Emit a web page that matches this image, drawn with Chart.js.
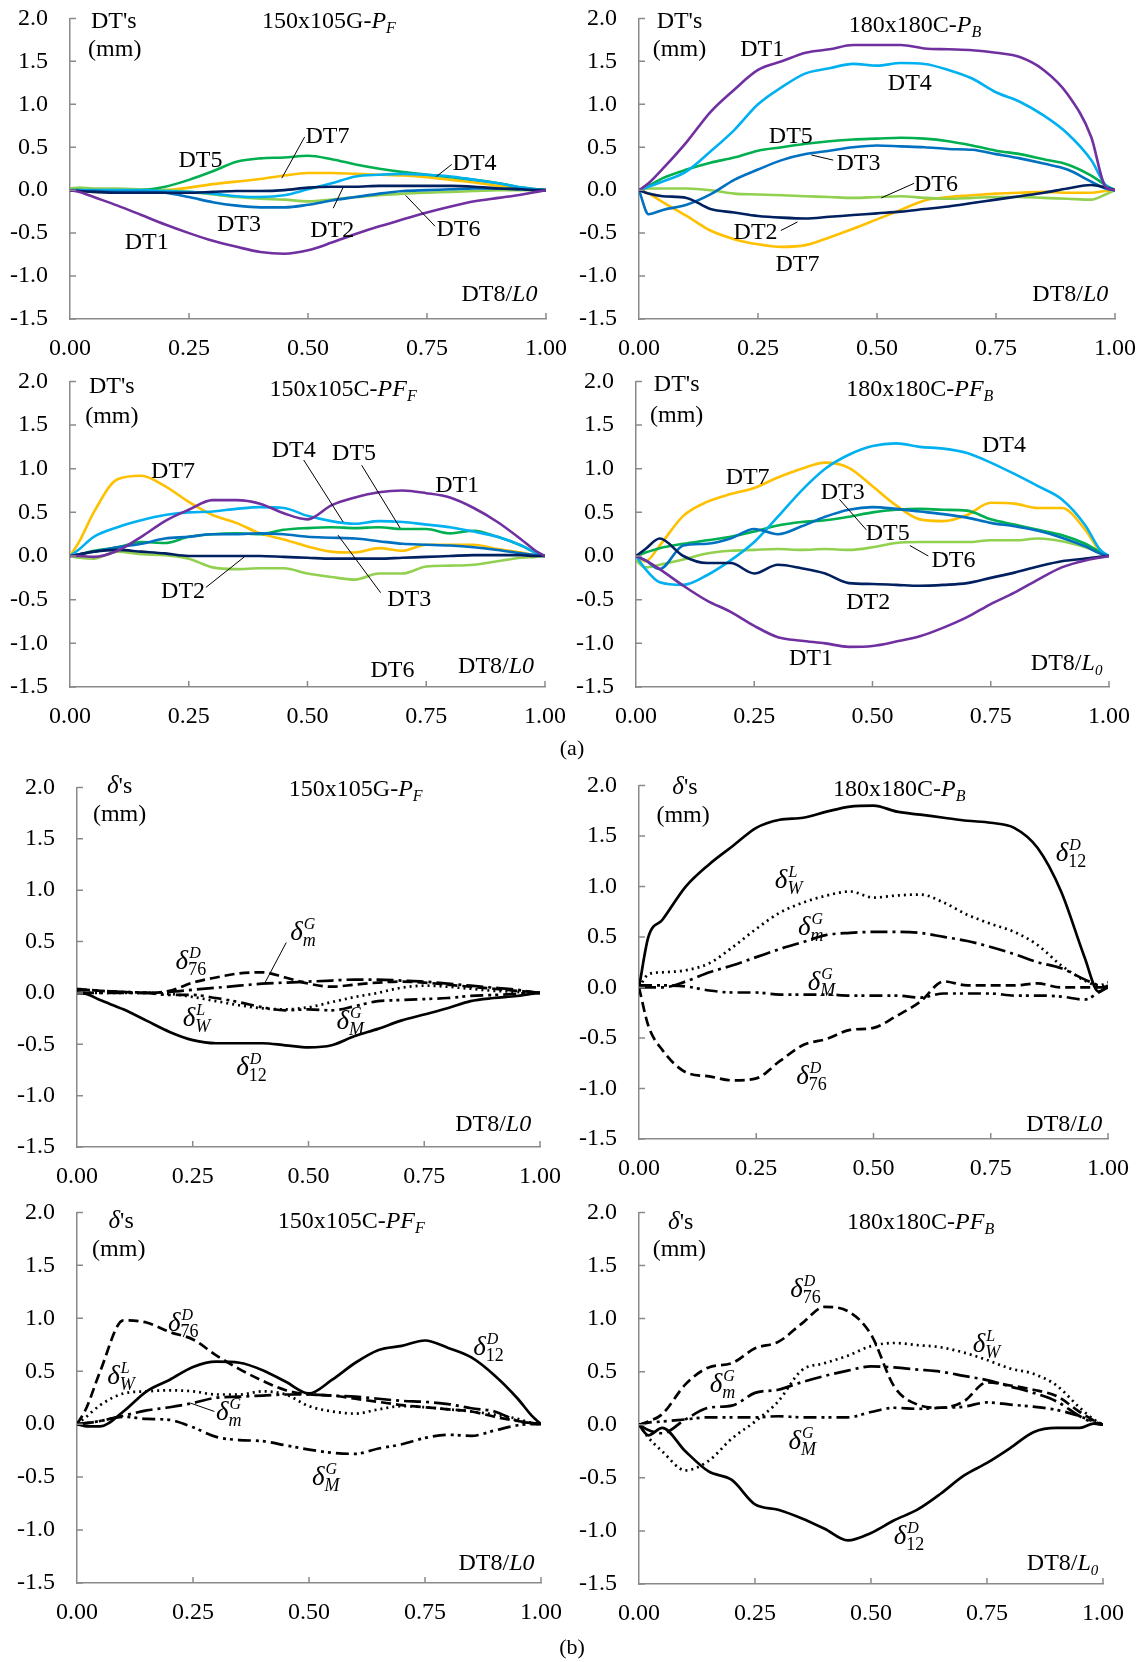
<!DOCTYPE html>
<html><head><meta charset="utf-8">
<script src="https://cdn.jsdelivr.net/npm/chart.js@4.4.0/dist/chart.umd.min.js"></script>
<style>
html,body{margin:0;padding:0;background:#fff;}
#page{position:relative;width:1145px;height:1662px;overflow:hidden;background:#fff;}
canvas{position:absolute;}
.cap{position:absolute;font-family:'Liberation Serif','Times New Roman',serif;font-size:22px;transform:translate(-50%,-50%);color:#000;}
</style></head><body><div id="page"></div>
<script>
// ---------- shared axes ----------
const X = [0,0.02,0.05,0.1,0.15,0.2,0.25,0.3,0.35,0.4,0.45,0.5,0.55,0.6,0.65,0.7,0.75,0.8,0.85,0.9,0.95,0.98,1];
const X_TICKS = [0,0.25,0.5,0.75,1];
const Y_TICKS = [-1.5,-1,-0.5,0,0.5,1,1.5,2];
const DT_NAMES = ['DT1','DT2','DT3','DT4','DT5','DT6','DT7'];
const D_NAMES = ['d12','d76','dW','dm','dM'];

// ---------- (a) 150x105G-PF ----------
const a1_DT1 = [0,-0.02,-0.08,-0.18,-0.29,-0.40,-0.50,-0.59,-0.66,-0.72,-0.74,-0.70,-0.61,-0.51,-0.42,-0.34,-0.26,-0.19,-0.13,-0.09,-0.05,-0.02,0];
const a1_DT2 = [0,-0.01,-0.02,-0.03,-0.03,-0.03,-0.03,-0.02,-0.01,-0.01,0.00,0.03,0.04,0.04,0.05,0.05,0.05,0.05,0.04,0.02,0.01,0.00,0];
const a1_DT3 = [0,-0.01,-0.01,-0.02,-0.02,-0.03,-0.08,-0.14,-0.18,-0.20,-0.20,-0.17,-0.12,-0.08,-0.04,-0.01,0.00,0.01,0.02,0.02,0.01,0.00,0];
const a1_DT4 = [0,0.00,0.00,0.00,0.00,-0.01,-0.02,-0.04,-0.07,-0.08,-0.06,0.01,0.08,0.16,0.18,0.19,0.18,0.16,0.12,0.08,0.03,0.01,0];
const a1_DT5 = [0,0.00,-0.01,-0.01,0.00,0.04,0.12,0.22,0.33,0.37,0.38,0.40,0.36,0.30,0.25,0.21,0.18,0.15,0.12,0.08,0.03,0.01,0];
const a1_DT6 = [0.02,0.03,0.02,0.02,0.01,0.00,-0.02,-0.05,-0.08,-0.10,-0.11,-0.13,-0.11,-0.08,-0.06,-0.04,-0.03,-0.02,-0.01,0.00,0.00,0.00,0];
const a1_DT7 = [0,-0.01,-0.02,-0.02,-0.01,0.00,0.03,0.07,0.10,0.13,0.17,0.20,0.20,0.19,0.18,0.17,0.15,0.12,0.09,0.05,0.01,0.00,0];

// ---------- (a) 180x180C-PB ----------
const a2_DT1 = [0,0.08,0.25,0.56,0.91,1.17,1.40,1.50,1.60,1.64,1.69,1.69,1.69,1.65,1.64,1.63,1.60,1.55,1.40,1.12,0.62,0.04,0];
const a2_DT2 = [0,-0.04,-0.07,-0.09,-0.22,-0.26,-0.30,-0.32,-0.33,-0.31,-0.29,-0.27,-0.25,-0.22,-0.19,-0.15,-0.11,-0.07,-0.03,0.02,0.06,0.03,0];
const a2_DT3 = [0,-0.28,-0.23,-0.17,-0.05,0.12,0.24,0.35,0.42,0.46,0.50,0.52,0.51,0.50,0.48,0.47,0.42,0.37,0.31,0.24,0.10,0.02,0];
const a2_DT4 = [0,0.04,0.10,0.22,0.45,0.70,1.00,1.20,1.36,1.42,1.47,1.45,1.48,1.47,1.40,1.30,1.14,1.03,0.87,0.66,0.35,0.06,0];
const a2_DT5 = [0,0.05,0.14,0.24,0.32,0.38,0.46,0.50,0.54,0.57,0.59,0.60,0.61,0.60,0.57,0.52,0.46,0.42,0.36,0.30,0.17,0.06,0];
const a2_DT6 = [0,0.02,0.02,0.02,0.00,-0.04,-0.05,-0.06,-0.07,-0.08,-0.09,-0.08,-0.07,-0.09,-0.10,-0.09,-0.08,-0.08,-0.09,-0.10,-0.11,-0.05,0];
const a2_DT7 = [0,-0.04,-0.14,-0.30,-0.47,-0.57,-0.63,-0.66,-0.64,-0.55,-0.45,-0.34,-0.23,-0.12,-0.08,-0.06,-0.04,-0.03,-0.02,-0.03,-0.03,-0.01,0];

// ---------- (a) 150x105C-PFF ----------
const a3_DT1 = [0,0.00,-0.01,0.06,0.22,0.40,0.53,0.64,0.64,0.60,0.49,0.42,0.58,0.67,0.73,0.75,0.72,0.67,0.55,0.39,0.19,0.06,0];
const a3_DT2 = [0,0.02,0.05,0.07,0.05,0.03,0.00,0.00,0.00,0.00,-0.01,-0.02,-0.03,-0.03,-0.03,-0.02,-0.01,0.00,0.01,0.01,0.01,0.00,0];
const a3_DT3 = [0,0.02,0.05,0.10,0.14,0.20,0.22,0.25,0.25,0.26,0.25,0.22,0.21,0.20,0.17,0.14,0.13,0.12,0.10,0.07,0.03,0.01,0];
const a3_DT4 = [0,0.08,0.22,0.33,0.41,0.47,0.50,0.51,0.54,0.56,0.55,0.46,0.40,0.37,0.40,0.39,0.36,0.33,0.28,0.22,0.12,0.04,0];
const a3_DT5 = [0,0.02,0.06,0.10,0.16,0.15,0.22,0.25,0.26,0.25,0.30,0.32,0.33,0.32,0.33,0.31,0.31,0.26,0.29,0.22,0.12,0.04,0];
const a3_DT6 = [0,-0.02,-0.03,0.05,0.02,0.01,-0.03,-0.13,-0.15,-0.14,-0.14,-0.20,-0.24,-0.27,-0.20,-0.20,-0.12,-0.11,-0.10,-0.06,-0.02,-0.01,0];
const a3_DT7 = [0,0.17,0.50,0.88,0.92,0.80,0.62,0.47,0.38,0.26,0.19,0.11,0.05,0.04,0.09,0.06,0.13,0.13,0.13,0.08,0.04,0.01,0];

// ---------- (a) 180x180C-PFB ----------
const a4_DT1 = [0,-0.05,-0.15,-0.34,-0.51,-0.64,-0.80,-0.93,-0.97,-1.00,-1.04,-1.03,-0.98,-0.92,-0.82,-0.70,-0.55,-0.42,-0.27,-0.13,-0.05,-0.02,0];
const a4_DT2 = [0,0.08,0.20,0.00,-0.08,-0.08,-0.20,-0.10,-0.14,-0.20,-0.31,-0.32,-0.33,-0.34,-0.33,-0.31,-0.25,-0.19,-0.12,-0.06,-0.03,-0.01,0];
const a4_DT3 = [0,-0.05,-0.15,0.12,0.14,0.20,0.31,0.25,0.34,0.45,0.53,0.56,0.54,0.51,0.48,0.44,0.38,0.34,0.29,0.21,0.11,0.03,0];
const a4_DT4 = [0,-0.15,-0.30,-0.33,-0.22,-0.05,0.16,0.45,0.75,1.00,1.16,1.26,1.29,1.25,1.23,1.18,1.07,0.94,0.80,0.65,0.35,0.08,0];
const a4_DT5 = [0,0.04,0.09,0.14,0.18,0.22,0.28,0.35,0.39,0.41,0.45,0.50,0.53,0.54,0.53,0.52,0.42,0.36,0.30,0.24,0.14,0.05,0];
const a4_DT6 = [-0.05,-0.13,-0.10,-0.04,0.03,0.06,0.07,0.08,0.07,0.08,0.07,0.10,0.15,0.16,0.16,0.16,0.18,0.18,0.20,0.17,0.10,0.04,0];
const a4_DT7 = [0,-0.06,0.12,0.46,0.62,0.71,0.78,0.90,1.00,1.07,1.01,0.80,0.58,0.42,0.40,0.47,0.61,0.60,0.55,0.55,0.30,0.06,0];

// ---------- (b) 150x105G-PF ----------
const b1_d12 = [0,-0.01,-0.07,-0.16,-0.27,-0.38,-0.46,-0.49,-0.49,-0.49,-0.51,-0.53,-0.51,-0.42,-0.35,-0.27,-0.21,-0.15,-0.08,-0.05,-0.03,-0.01,0];
const b1_d76 = [0.03,0.03,0.02,0.01,0.00,0.02,0.10,0.15,0.19,0.20,0.15,0.09,0.06,0.08,0.10,0.11,0.10,0.08,0.06,0.04,0.02,0.01,0];
const b1_dW  = [0,0.00,0.00,0.00,0.00,-0.01,-0.04,-0.08,-0.12,-0.15,-0.16,-0.14,-0.09,-0.04,0.00,0.05,0.07,0.06,0.04,0.02,0.01,0.00,0];
const b1_dm  = [0,0.00,0.00,0.00,0.00,0.01,0.03,0.05,0.07,0.09,0.10,0.11,0.12,0.13,0.13,0.12,0.11,0.09,0.07,0.05,0.03,0.01,0];
const b1_dM  = [0.04,0.03,0.02,0.01,0.00,-0.02,-0.02,-0.05,-0.09,-0.14,-0.17,-0.16,-0.17,-0.13,-0.08,-0.07,-0.06,-0.05,-0.03,-0.02,-0.01,0.00,0];

// ---------- (b) 180x180C-PB ----------
const b2_d12 = [0,0.50,0.67,1.00,1.22,1.40,1.58,1.66,1.68,1.74,1.79,1.80,1.74,1.71,1.68,1.65,1.63,1.58,1.38,0.95,0.30,-0.04,0.02];
const b2_d76 = [0,-0.38,-0.62,-0.84,-0.88,-0.92,-0.90,-0.73,-0.57,-0.51,-0.42,-0.40,-0.28,-0.14,0.06,0.02,0.02,0.02,0.04,0.00,0.00,0.00,0];
const b2_dW  = [0,0.13,0.15,0.17,0.24,0.40,0.58,0.74,0.84,0.91,0.95,0.89,0.91,0.92,0.84,0.72,0.63,0.55,0.42,0.22,0.07,0.02,0.05];
const b2_dm  = [0,0.00,0.00,0.06,0.15,0.22,0.30,0.38,0.45,0.52,0.54,0.55,0.55,0.54,0.50,0.46,0.40,0.33,0.25,0.19,0.08,0.02,0];
const b2_dM  = [0.02,0.02,0.02,0.01,-0.03,-0.05,-0.05,-0.07,-0.07,-0.07,-0.08,-0.08,-0.08,-0.10,-0.06,-0.06,-0.06,-0.08,-0.08,-0.09,-0.12,-0.05,0];

// ---------- (b) 150x105C-PFF ----------
const b3_d12 = [0,-0.02,-0.02,0.12,0.31,0.42,0.54,0.59,0.58,0.51,0.40,0.29,0.42,0.58,0.70,0.74,0.79,0.72,0.63,0.46,0.24,0.08,0];
const b3_d76 = [0,0.15,0.50,0.98,0.96,0.87,0.80,0.65,0.52,0.41,0.32,0.28,0.27,0.24,0.21,0.18,0.16,0.14,0.12,0.07,0.03,0.01,0];
const b3_dW  = [0,0.07,0.18,0.29,0.31,0.32,0.31,0.28,0.28,0.31,0.28,0.17,0.12,0.10,0.14,0.17,0.16,0.14,0.12,0.09,0.05,0.01,0];
const b3_dm  = [0,0.01,0.03,0.08,0.13,0.16,0.20,0.25,0.26,0.27,0.28,0.28,0.27,0.26,0.24,0.22,0.21,0.19,0.15,0.12,0.03,0.01,0];
const b3_dM  = [0,0.01,0.03,0.07,0.05,0.04,-0.03,-0.12,-0.15,-0.16,-0.20,-0.24,-0.27,-0.28,-0.23,-0.19,-0.13,-0.10,-0.11,-0.06,-0.01,0.00,0];

// ---------- (b) 180x180C-PFB ----------
const b4_d12 = [0,-0.10,-0.03,-0.25,-0.44,-0.52,-0.75,-0.80,-0.88,-0.98,-1.09,-1.02,-0.90,-0.80,-0.65,-0.48,-0.36,-0.22,-0.07,-0.03,-0.03,0.01,0];
const b4_d76 = [0,0.03,0.10,0.38,0.54,0.58,0.72,0.78,0.95,1.11,1.07,0.85,0.36,0.19,0.16,0.22,0.40,0.37,0.33,0.27,0.12,0.04,0];
const b4_dW  = [0,-0.12,-0.25,-0.43,-0.34,-0.13,0.03,0.22,0.51,0.58,0.65,0.74,0.77,0.75,0.73,0.68,0.61,0.53,0.48,0.37,0.16,0.05,0];
const b4_dm  = [0,-0.05,-0.08,0.05,0.16,0.18,0.30,0.33,0.40,0.46,0.51,0.55,0.54,0.52,0.50,0.46,0.42,0.36,0.30,0.22,0.08,0.02,0];
const b4_dM  = [0,0.02,0.03,0.05,0.07,0.07,0.07,0.08,0.07,0.07,0.07,0.12,0.16,0.15,0.16,0.17,0.21,0.19,0.17,0.14,0.08,0.03,0];

// ---------- styles ----------
const SERIF = "'Liberation Serif','Times New Roman',serif";
const AXIS_COLOR = '#8a8a8a';
const DT_COLORS = ['#7030A0','#002060','#0070C0','#00B0F0','#00B050','#92D050','#FFC000'];
const D_DASH = [[], [10,5], [2,4], [17,5,3,5], [13,5,3,4,3,5]];
const PADL = 70, PADR = 45, PADT = 15, PADB = 52;
const FS = 24;

// label text specs (delta labels: superscript / subscript)
const D_LABEL = { d12:['D','12'], d76:['D','76'], dW:['L','W'], dm:['G','m'], dM:['G','M'] };

const PANELS = [
 {id:1, L:70, R:546, T:18, B:319, kind:'a', series:[a1_DT1,a1_DT2,a1_DT3,a1_DT4,a1_DT5,a1_DT6,a1_DT7],
  title:['150x105G-','P','F'], tpos:[0.544,1.98], hpos:[0.092,1.98], mpos:[0.094,1.65], apos:[0.982,-1.20], subL0:false,
  labels:[['DT5',0.274,0.36],['DT7',0.541,0.64],['DT4',0.850,0.33],['DT3',0.355,-0.38],['DT2',0.551,-0.45],['DT6',0.816,-0.44],['DT1',0.161,-0.59]],
  leaders:[[0.493,0.62,0.445,0.14],[0.802,0.30,0.770,0.16],[0.553,-0.21,0.574,0.035],[0.767,-0.42,0.705,-0.06]]},
 {id:2, L:639, R:1115, T:18, B:319, kind:'a', series:[a2_DT1,a2_DT2,a2_DT3,a2_DT4,a2_DT5,a2_DT6,a2_DT7],
  title:['180x180C-','P','B'], tpos:[0.580,1.94], hpos:[0.085,1.98], mpos:[0.085,1.65], apos:[0.986,-1.20], subL0:false,
  labels:[['DT1',0.259,1.65],['DT4',0.569,1.26],['DT5',0.319,0.64],['DT3',0.461,0.33],['DT6',0.624,0.08],['DT2',0.245,-0.47],['DT7',0.333,-0.85]],
  leaders:[[0.408,0.35,0.362,0.41],[0.578,0.08,0.509,-0.09],[0.298,-0.47,0.333,-0.37]]},
 {id:3, L:70, R:545, T:381, B:687, kind:'a', series:[a3_DT1,a3_DT2,a3_DT3,a3_DT4,a3_DT5,a3_DT6,a3_DT7],
  title:['150x105C-','PF','F'], tpos:[0.575,1.92], hpos:[0.088,1.96], mpos:[0.088,1.62], apos:[0.977,-1.25], subL0:false,
  labels:[['DT7',0.217,0.99],['DT4',0.471,1.23],['DT5',0.598,1.19],['DT1',0.815,0.83],['DT2',0.238,-0.39],['DT3',0.714,-0.48],['DT6',0.679,-1.29]],
  leaders:[[0.492,1.10,0.575,0.39],[0.614,1.04,0.695,0.32],[0.286,-0.36,0.367,-0.01],[0.654,-0.42,0.564,0.24]]},
 {id:4, L:636, R:1109, T:381, B:687, kind:'a', series:[a4_DT1,a4_DT2,a4_DT3,a4_DT4,a4_DT5,a4_DT6,a4_DT7],
  title:['180x180C-','PF','B'], tpos:[0.600,1.92], hpos:[0.086,1.98], mpos:[0.086,1.63], apos:[0.986,-1.21], subL0:true,
  labels:[['DT4',0.778,1.28],['DT7',0.236,0.92],['DT3',0.437,0.75],['DT5',0.532,0.28],['DT6',0.671,-0.03],['DT2',0.491,-0.51],['DT1',0.370,-1.16]],
  leaders:[[0.430,0.65,0.487,0.30],[0.618,0.0,0.579,0.12]]},
 {id:5, L:77, R:540, T:787, B:1147, kind:'b', series:[b1_d12,b1_d76,b1_dW,b1_dm,b1_dM],
  title:['150x105G-','P','F'], tpos:[0.602,1.99], hpos:[0.092,2.02], mpos:[0.092,1.75], apos:[0.981,-1.27], subL0:false,
  labels:[['d76',0.246,0.30],['dm',0.488,0.58],['dW',0.258,-0.25],['dM',0.590,-0.28],['d12',0.377,-0.73]],
  leaders:[[0.452,0.49,0.405,0.09]]},
 {id:6, L:639, R:1108, T:785, B:1139, kind:'b', series:[b2_d12,b2_d76,b2_dW,b2_dm,b2_dM],
  title:['180x180C-','P','B'], tpos:[0.555,1.97], hpos:[0.098,1.99], mpos:[0.094,1.72], apos:[0.988,-1.34], subL0:false,
  labels:[['d12',0.921,1.32],['dW',0.319,1.05],['dm',0.366,0.59],['dM',0.389,0.04],['d76',0.368,-0.89]],
  leaders:[]},
 {id:7, L:77, R:541, T:1212, B:1583, kind:'b', series:[b3_d12,b3_d76,b3_dW,b3_dm,b3_dM],
  title:['150x105C-','PF','F'], tpos:[0.591,1.93], hpos:[0.095,1.93], mpos:[0.090,1.66], apos:[0.986,-1.30], subL0:false,
  labels:[['d76',0.229,0.95],['d12',0.887,0.72],['dW',0.095,0.45],['dm',0.327,0.11],['dM',0.536,-0.51]],
  leaders:[[0.296,0.12,0.244,0.20]]},
 {id:8, L:639, R:1103, T:1212, B:1584, kind:'b', series:[b4_d12,b4_d76,b4_dW,b4_dm,b4_dM],
  title:['180x180C-','PF','B'], tpos:[0.607,1.92], hpos:[0.090,1.92], mpos:[0.087,1.66], apos:[0.990,-1.29], subL0:true,
  labels:[['d76',0.359,1.27],['dW',0.749,0.75],['dm',0.180,0.37],['dM',0.352,-0.16],['d12',0.582,-1.06]],
  leaders:[]}
];

// ---------- rich text helpers ----------
function fnt(sz,it){ return (it?'italic ':'')+sz+'px '+SERIF; }
function segW(ctx,s){
  if(s.stack){
    ctx.font=fnt(s.sz,true); const a=ctx.measureText(s.stack[0]).width+1;
    ctx.font=fnt(s.sz2,s.subIt); const b=ctx.measureText(s.stack[1]).width;
    return Math.max(a,b);
  }
  ctx.font=fnt(s.sz,s.it); return ctx.measureText(s.t).width;
}
function drawSegs(ctx,segs,x,y,align,baseOff){
  const ws=segs.map(s=>segW(ctx,s)); const tot=ws.reduce((a,b)=>a+b,0);
  let cx = align==='right' ? x-tot : (align==='left' ? x : x-tot/2);
  const base = y + baseOff;
  ctx.textAlign='left'; ctx.textBaseline='alphabetic'; ctx.fillStyle='#000';
  segs.forEach((s,i)=>{
    if(s.stack){
      ctx.font=fnt(s.sz,true); ctx.fillText(s.stack[0],cx+1,base-11);
      ctx.font=fnt(s.sz2,s.subIt); ctx.fillText(s.stack[1],cx,base+6);
    } else {
      ctx.font=fnt(s.sz,s.it); ctx.fillText(s.t,cx,base+(s.dy||0));
    }
    cx+=ws[i];
  });
}
function deltaSegs(key){
  const [sup,sub]=D_LABEL[key];
  return [{t:'\u03B4',sz:27,it:true},{stack:[sup,sub],sz:16,sz2:18,subIt:/[A-Za-z]/.test(sub)}];
}

function makeAnn(p){
  return {id:'ann'+p.id, afterDraw(chart){
    const ctx=chart.ctx, xs=chart.scales.x, ys=chart.scales.y, ca=chart.chartArea;
    const px=v=>xs.getPixelForValue(v), py=v=>ys.getPixelForValue(v);
    ctx.save();
    // inward tick marks
    ctx.strokeStyle=AXIS_COLOR; ctx.lineWidth=1.5; ctx.beginPath();
    X_TICKS.forEach(v=>{ if(v===0) return; const x=px(v); ctx.moveTo(x,ca.bottom); ctx.lineTo(x,ca.bottom-6); });
    Y_TICKS.forEach(v=>{ const y=py(v); ctx.moveTo(ca.left,y); ctx.lineTo(ca.left+6,y); });
    ctx.stroke();
    // leader lines
    ctx.strokeStyle='#000'; ctx.lineWidth=1; ctx.beginPath();
    p.leaders.forEach(l=>{ ctx.moveTo(px(l[0]),py(l[1])); ctx.lineTo(px(l[2]),py(l[3])); });
    ctx.stroke();
    // curve labels
    p.labels.forEach(l=>{
      if(p.kind==='a') drawSegs(ctx,[{t:l[0],sz:FS}],px(l[1]),py(l[2]),'center',8);
      else drawSegs(ctx,deltaSegs(l[0]),px(l[1]),py(l[2]),'center',7);
    });
    // title
    drawSegs(ctx,[{t:p.title[0],sz:FS},{t:p.title[1],sz:FS,it:true},{t:p.title[2],sz:16,it:true,dy:5}],px(p.tpos[0]),py(p.tpos[1]),'center',8);
    // y header
    const hdr = p.kind==='a' ? [{t:"DT's",sz:FS}] : [{t:'\u03B4',sz:FS+1,it:true},{t:"'s",sz:FS}];
    drawSegs(ctx,hdr,px(p.hpos[0]),py(p.hpos[1]),'center',8);
    drawSegs(ctx,[{t:'(mm)',sz:FS}],px(p.mpos[0]),py(p.mpos[1]),'center',8);
    // x axis title
    const ax = p.subL0 ? [{t:'DT8/',sz:FS},{t:'L',sz:FS,it:true},{t:'0',sz:15,it:true,dy:5}]
                       : [{t:'DT8/',sz:FS},{t:'L0',sz:FS,it:true}];
    drawSegs(ctx,ax,px(p.apos[0]),py(p.apos[1]),'right',8);
    ctx.restore();
  }};
}

// ---------- build charts ----------
const page=document.getElementById('page');
function createPanel(p, adj){
  const c=document.createElement('canvas');
  const W=Math.round((p.R-p.L)+PADL+PADR+adj.l+adj.r), H=Math.round((p.B-p.T)+PADT+PADB+adj.t+adj.b);
  c.width=W; c.height=H;
  c.style.left=(p.L-PADL-adj.l)+'px'; c.style.top=(p.T-PADT-adj.t)+'px';
  c.style.width=W+'px'; c.style.height=H+'px';
  page.appendChild(c);
  const names = p.kind==='a' ? DT_NAMES : D_NAMES;
  const datasets = p.series.map((arr,i)=>({
    label: names[i],
    data: X.map((x,j)=>({x:x,y:arr[j]})),
    borderColor: p.kind==='a' ? DT_COLORS[i] : '#000',
    borderWidth: p.kind==='a' ? 2.6 : 2.7,
    borderDash: p.kind==='a' ? [] : D_DASH[i],
    pointRadius: 0,
    fill: false,
    cubicInterpolationMode: 'monotone'
  }));
  const chart = new Chart(c.getContext('2d'),{
    type:'line',
    data:{datasets},
    options:{
      responsive:false, animation:false, devicePixelRatio:1,
      layout:{padding:{top:PADT,right:PADR,left:0,bottom:0}},
      plugins:{legend:{display:false},tooltip:{enabled:false}},
      scales:{
        x:{type:'linear',min:0,max:1,
           afterFit:s=>{s.height=PADB;},
           afterBuildTicks:s=>{s.ticks=X_TICKS.map(v=>({value:v}));},
           grid:{display:false,drawTicks:false},
           border:{display:true,color:AXIS_COLOR,width:1.5},
           ticks:{padding:15,color:'#000',font:{family:SERIF,size:FS},autoSkip:false,maxRotation:0,
                  callback:v=>Number(v).toFixed(2)}},
        y:{type:'linear',min:-1.5,max:2,
           afterFit:s=>{s.width=PADL;},
           afterBuildTicks:s=>{s.ticks=Y_TICKS.map(v=>({value:v}));},
           grid:{display:false,drawTicks:false},
           border:{display:true,color:AXIS_COLOR,width:1.5},
           ticks:{padding:22,color:'#000',font:{family:SERIF,size:FS},autoSkip:false,
                  callback:v=>Number(v).toFixed(1)}}
      }
    },
    plugins:[makeAnn(p)]
  });
  return {c, chart, W, H};
}
PANELS.forEach(p=>{
  const adj={t:0,b:0,l:0,r:0};
  let r=createPanel(p,adj);
  const ca=r.chart.chartArea;
  adj.t = ca.top - PADT;
  adj.b = (r.H - PADB) - ca.bottom;
  adj.l = ca.left - PADL;
  adj.r = (r.W - PADR) - ca.right;
  if(Math.abs(adj.t)+Math.abs(adj.b)+Math.abs(adj.l)+Math.abs(adj.r) > 0.5){
    r.chart.destroy(); r.c.remove();
    createPanel(p,adj);
  }
});

// captions
[['(a)',572,748],['(b)',572,1647]].forEach(([t,x,y])=>{
  const d=document.createElement('div'); d.className='cap'; d.textContent=t;
  d.style.left=x+'px'; d.style.top=y+'px'; page.appendChild(d);
});
</script>
</body></html>
